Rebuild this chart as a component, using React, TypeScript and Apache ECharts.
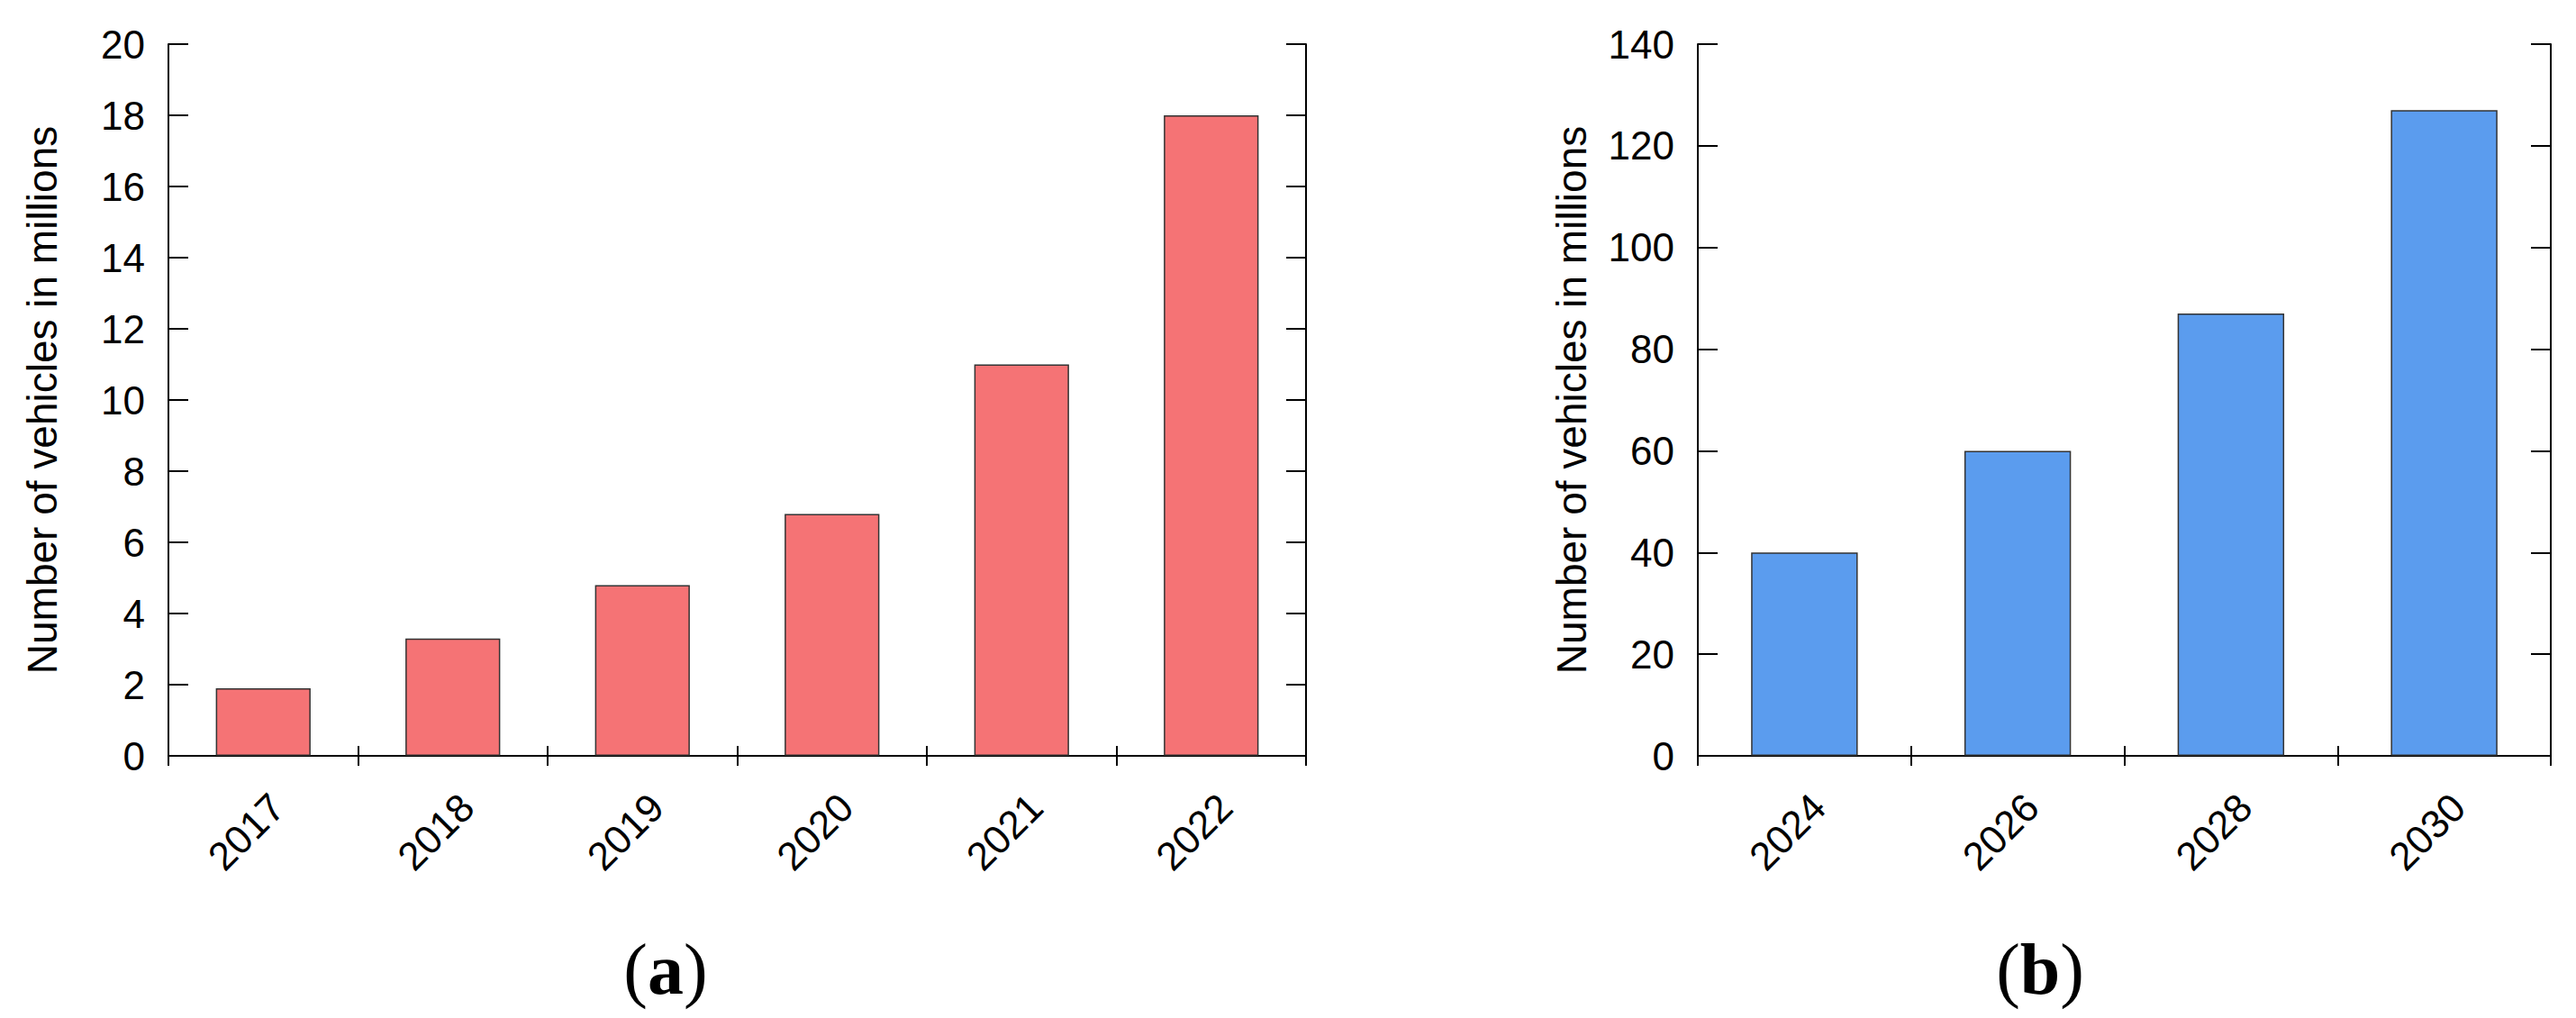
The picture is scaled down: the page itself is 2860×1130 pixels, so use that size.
import React, { useEffect, useRef } from "react";
import * as echarts from "echarts";

const yearsA = ["2017", "2018", "2019", "2020", "2021", "2022"];
const vehiclesA = [1.9, 3.3, 4.8, 6.8, 11, 18];
const yearsB = ["2024", "2026", "2028", "2030"];
const vehiclesB = [40, 60, 87, 127];
const yAxisTitle = "Number of vehicles in millions";
const axisA = { min: 0, max: 20, interval: 2 };
const axisB = { min: 0, max: 140, interval: 20 };
const captionA = "a";
const captionB = "b";

const SANS = "'Liberation Sans', Arial, sans-serif";
const SERIF = "'Liberation Serif', 'Times New Roman', serif";
const RED = "#F57375";
const BLUE = "#5B9CEE";

export default function App() {
  const ref = useRef<HTMLDivElement>(null);
  useEffect(() => {
    document.body.style.margin = "0";
    const chart = echarts.init(ref.current!, null, { renderer: "svg" });
    const line = { show: true, lineStyle: { color: "#000", width: 2 } };
    const xBottom = (grid: number, data: string[]) => ({
      gridIndex: grid,
      type: "category",
      data,
      position: "bottom",
      axisLine: line,
      axisTick: { show: true, inside: true, length: 11, lineStyle: { color: "#000", width: 2 } },
      axisLabel: {
        rotate: 45,
        interval: 0,
        margin: 34,
        fontSize: 44,
        fontFamily: SANS,
        color: "#000",
        verticalAlign: "top",
      },
      splitLine: { show: false },
    });
    const xTop = (grid: number, data: string[]) => ({
      gridIndex: grid,
      type: "category",
      data,
      position: "top",
      axisLine: line,
      axisTick: { show: true, inside: true, length: 11, lineStyle: { color: "#000", width: 2 } },
      axisLabel: { show: false },
      splitLine: { show: false },
    });
    const yLeft = (grid: number, ax: any) => ({
      gridIndex: grid,
      type: "value",
      ...ax,
      position: "left",
      name: yAxisTitle,
      nameLocation: "middle",
      nameGap: 117,
      nameTextStyle: { fontSize: 46, fontFamily: SANS, color: "#000" },
      axisLine: line,
      axisTick: { show: true, inside: true, length: 22, lineStyle: { color: "#000", width: 2 } },
      axisLabel: { margin: 26, fontSize: 44, fontFamily: SANS, color: "#000" },
      splitLine: { show: false },
    });
    const yRight = (grid: number, ax: any) => ({
      gridIndex: grid,
      type: "value",
      ...ax,
      position: "right",
      axisLine: line,
      axisTick: { show: true, inside: true, length: 22, lineStyle: { color: "#000", width: 2 } },
      axisLabel: { show: false },
      splitLine: { show: false },
    });
    const caption = (x: number, letter: string) => ({
      type: "text",
      x,
      y: 1076,
      style: {
        text: "{p|(}{b|" + letter + "}{p|)}",
        align: "center",
        verticalAlign: "middle",
        rich: {
          p: { fontFamily: SERIF, fontSize: 80, fill: "#000", fontWeight: "normal" },
          b: { fontFamily: SERIF, fontSize: 80, fill: "#000", fontWeight: "bold" },
        },
      },
    });
    chart.setOption({
      animation: false,
      backgroundColor: "#fff",
      grid: [
        { left: 187, top: 49, width: 1263, height: 790 },
        { left: 1885, top: 49, width: 947, height: 790 },
      ],
      xAxis: [xBottom(0, yearsA), xTop(0, yearsA), xBottom(1, yearsB), xTop(1, yearsB)],
      yAxis: [yLeft(0, axisA), yRight(0, axisA), yLeft(1, axisB), yRight(1, axisB)],
      series: [
        {
          type: "bar",
          xAxisIndex: 0,
          yAxisIndex: 0,
          data: vehiclesA,
          barWidth: "50%",
          itemStyle: { color: RED, borderColor: "#333", borderWidth: 1.5 },
        },
        {
          type: "bar",
          xAxisIndex: 2,
          yAxisIndex: 2,
          data: vehiclesB,
          barWidth: "50%",
          itemStyle: { color: BLUE, borderColor: "#333", borderWidth: 1.5 },
        },
      ],
      graphic: [caption(739, captionA), caption(2265, captionB)],
    });
    return () => chart.dispose();
  }, []);
  return <div ref={ref} style={{ width: 2860, height: 1130 }} />;
}
